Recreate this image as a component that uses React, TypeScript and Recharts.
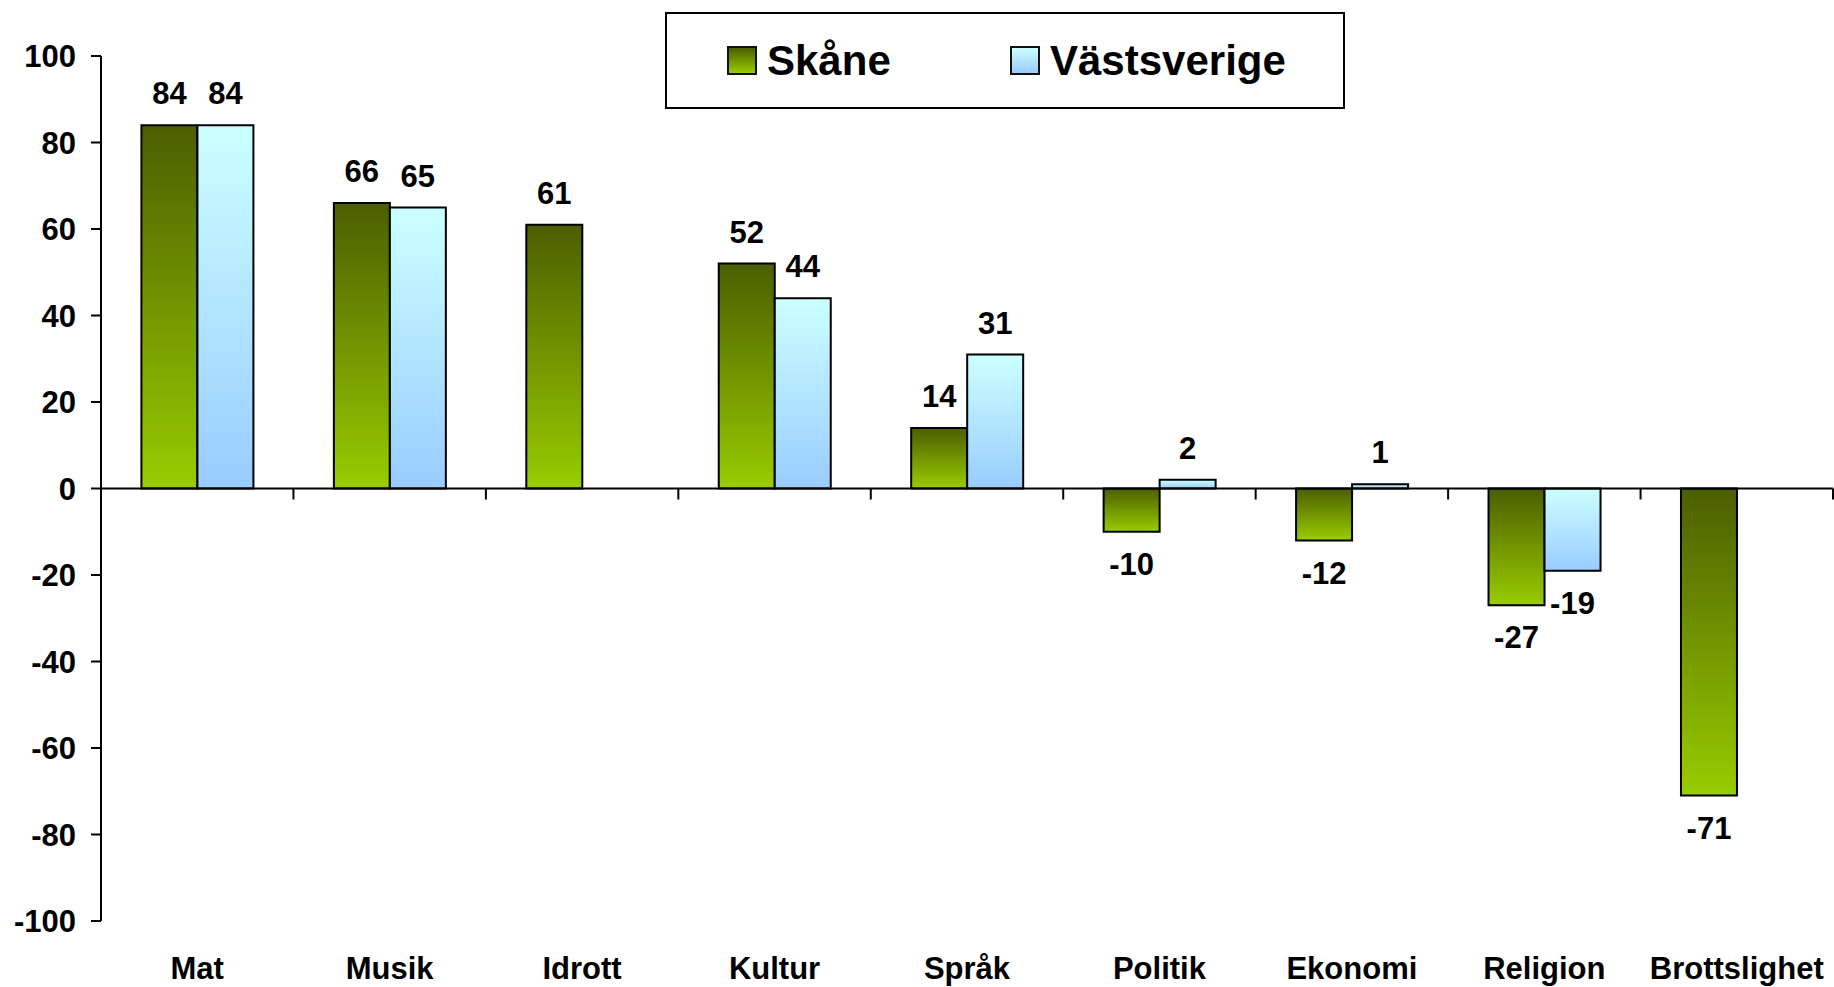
import { BarChart, Bar, XAxis, YAxis, ReferenceLine, LabelList, Legend } from "recharts"

const categories = ["Mat", "Musik", "Idrott", "Kultur", "Språk", "Politik", "Ekonomi", "Religion", "Brottslighet"]
const skane = [84, 66, 61, 52, 14, -10, -12, -27, -71]
const vastsverige: (number | null)[] = [84, 65, null, 44, 31, 2, 1, -19, null]
const yTicks = [-100, -80, -60, -40, -20, 0, 20, 40, 60, 80, 100]
const seriesNames = ["Skåne", "Västsverige"]

const data = categories.map((name, i) => ({
  name,
  skane: skane[i],
  vast: vastsverige[i],
}))

const FONT = '"Liberation Sans", Arial, Helvetica, sans-serif'

function ValueLabel(props: any) {
  const vb = props.viewBox || props
  const { value } = props
  if (value === null || value === undefined) return null
  const x = Number(vb.x)
  const y = Number(vb.y)
  const w = Number(vb.width)
  const h = Number(vb.height)
  const top = Math.min(y, y + h)
  const bottom = Math.max(y, y + h)
  const cy = value >= 0 ? top - 32 : bottom + 32
  return (
    <text
      x={x + w / 2}
      y={cy}
      dy="0.36em"
      textAnchor="middle"
      fontFamily={FONT}
      fontWeight="bold"
      fontSize={31}
      fill="#000"
    >
      {value}
    </text>
  )
}

// zero line with tick marks at the category boundaries
function ZeroAxis(props: any) {
  const { x1, x2, y1 } = props
  const n = categories.length
  const step = (x2 - x1) / n
  return (
    <g>
      <line x1={x1} y1={y1} x2={x2} y2={y1} stroke="#000" strokeWidth={2} />
      {categories.map((c, i) => (
        <line
          key={c}
          x1={x1 + step * (i + 1)}
          y1={y1}
          x2={x1 + step * (i + 1)}
          y2={y1 + 11}
          stroke="#000"
          strokeWidth={2}
        />
      ))}
    </g>
  )
}

const swatches = [
  { name: seriesNames[0], from: "#4b5e00", to: "#99cc00" },
  { name: seriesNames[1], from: "#ccffff", to: "#99ccff" },
]

function LegendBox() {
  return (
    <div
      style={{
        width: 680,
        height: 97,
        boxSizing: "border-box",
        border: "2px solid #000",
        background: "#fff",
        position: "relative",
        fontFamily: FONT,
        fontWeight: "bold",
        fontSize: 42,
      }}
    >
      {swatches.map((s, i) => (
        <div
          key={s.name}
          style={{
            position: "absolute",
            left: i === 0 ? 60 : 343,
            top: 0,
            height: 93,
            display: "flex",
            alignItems: "center",
          }}
        >
          <span
            style={{
              display: "inline-block",
              width: 26,
              height: 25,
              border: "2px solid #111",
              background: `linear-gradient(${s.from}, ${s.to})`,
              marginRight: 10,
            }}
          />
          <span style={{ color: "#000", lineHeight: 1 }}>{s.name}</span>
        </div>
      ))}
    </div>
  )
}

export default function App() {
  return (
    <div style={{ position: "absolute", left: 0, top: 0, background: "#fff" }}>
      <BarChart
        width={1834}
        height={987}
        data={data}
        margin={{ top: 56, right: 1, left: 0, bottom: 0 }}
        barCategoryGap="21%"
        barGap={0}
      >
        <defs>
          <linearGradient id="gGreen" x1="0" y1="0" x2="0" y2="1">
            <stop offset="0%" stopColor="#4b5e00" />
            <stop offset="100%" stopColor="#99cc00" />
          </linearGradient>
          <linearGradient id="gBlue" x1="0" y1="0" x2="0" y2="1">
            <stop offset="0%" stopColor="#ccffff" />
            <stop offset="100%" stopColor="#99ccff" />
          </linearGradient>
        </defs>
        <XAxis
          dataKey="name"
          axisLine={false}
          tickLine={false}
          tickSize={0}
          tickMargin={36}
          height={66}
          interval={0}
          tick={{ fontFamily: FONT, fontWeight: "bold", fontSize: 31, fill: "#000" }}
        />
        <YAxis
          domain={[-100, 100]}
          ticks={yTicks}
          interval={0}
          width={101}
          tickSize={10}
          tickMargin={15}
          axisLine={{ stroke: "#000", strokeWidth: 2 }}
          tickLine={{ stroke: "#000", strokeWidth: 2 }}
          tick={{ fontFamily: FONT, fontWeight: "bold", fontSize: 31, fill: "#000" }}
        />
        <Legend
          verticalAlign="middle"
          align="center"
          layout="horizontal"
          wrapperStyle={{ top: 12, left: 665, width: 680, height: 97 }}
          content={() => <LegendBox />}
        />
        <Bar dataKey="skane" name={seriesNames[0]} fill="url(#gGreen)" stroke="#000" strokeWidth={2} isAnimationActive={false}>
          <LabelList dataKey="skane" content={ValueLabel} />
        </Bar>
        <Bar dataKey="vast" name={seriesNames[1]} fill="url(#gBlue)" stroke="#000" strokeWidth={2} isAnimationActive={false}>
          <LabelList dataKey="vast" content={ValueLabel} />
        </Bar>
        <ReferenceLine y={0} shape={ZeroAxis} ifOverflow="visible" />
      </BarChart>
    </div>
  )
}
